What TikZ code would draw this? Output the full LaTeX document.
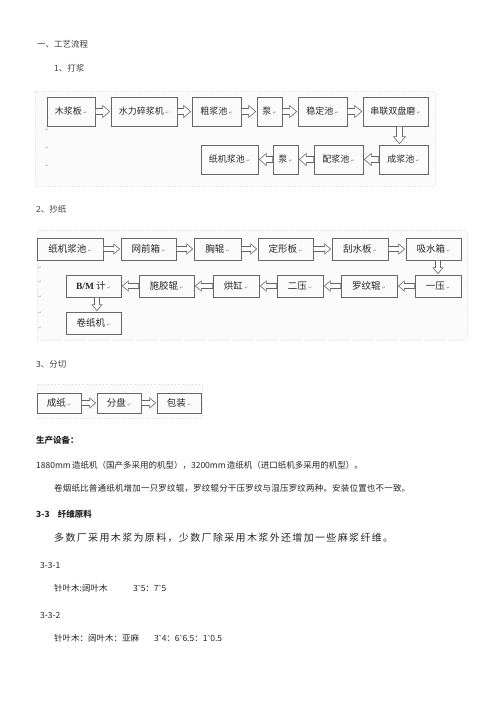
\documentclass[tikz,border=0pt]{standalone}
\usepackage{fontspec}
\setmainfont{Noto Sans CJK SC}
\newfontfamily\libser{Liberation Serif}
\newfontfamily\djv{DejaVu Sans}
\usetikzlibrary{calc}
\newcommand\rt{\,{\djv\fontsize{4.5}{4.5}\selectfont\color{gray}↵}}
\newcommand\tld{{\libser ˜}}
% even spreading of a line of characters to a given width
\def\sprstop{\sprstopmark}
\def\sprB#1{#1\sprC}
\def\sprC#1{\def\sprtmp{#1}\ifx\sprtmp\sprstop\else\hfil#1\expandafter\sprC\fi}
\newcommand\spreadto[2]{\hbox to #1{\sprB#2\sprstopmark}}
% block arrows between named nodes
\newcommand\blkR[2]{\path[blk] let \p1=(#1.east), \p2=(#2.west) in
  (\x1,\y1+\sh) -- (\x2-\hl-\gp,\y1+\sh) -- (\x2-\hl-\gp,\y1+\hh) -- (\x2-\gp,\y1)
  -- (\x2-\hl-\gp,\y1-\hh) -- (\x2-\hl-\gp,\y1-\sh) -- (\x1,\y1-\sh) -- cycle;}
\newcommand\blkL[2]{\path[blk] let \p1=(#1.west), \p2=(#2.east) in
  (\x1,\y1+\sh) -- (\x2+\hl+\gp,\y1+\sh) -- (\x2+\hl+\gp,\y1+\hh) -- (\x2+\gp,\y1)
  -- (\x2+\hl+\gp,\y1-\hh) -- (\x2+\hl+\gp,\y1-\sh) -- (\x1,\y1-\sh) -- cycle;}
\newcommand\blkD[3]{\path[blk] let \p1=(#1.south), \p2=(#2.north) in
  (#3-\sh,\y1) -- (#3-\sh,\y2+\hl+\gp) -- (#3-\hh,\y2+\hl+\gp) -- (#3,\y2+\gp)
  -- (#3+\hh,\y2+\hl+\gp) -- (#3+\sh,\y2+\hl+\gp) -- (#3+\sh,\y1) -- cycle;}
\begin{document}
\begin{tikzpicture}[x=1pt,y=-1pt,
  bx/.style={draw=black!60, line width=0.7pt, inner sep=0pt, text=black!85},
  ba/.style={bx, minimum height=29pt, font=\fontsize{9}{9}\selectfont},
  bb/.style={bx, minimum height=22pt, font=\fontsize{9.5}{9.5}\selectfont},
  bc/.style={bx, minimum height=20pt, minimum width=44pt, font=\fontsize{9.5}{9.5}\selectfont},
  blk/.style={draw=black!60, fill=white, line width=0.6pt},
  cv/.style={fill=gray!3, draw=gray!25, dotted, line width=0.4pt},
  tx/.style={anchor=west, inner sep=0pt, text=black!85, font=\fontsize{8.5}{8.5}\selectfont},
  hd/.style={tx, text=black!75},
  bd/.style={tx, font=\fontsize{8.5}{8.5}\selectfont\bfseries},
  mk/.style={anchor=west, inner sep=0pt, text=gray!70, font=\djv\fontsize{4.5}{4.5}\selectfont},
]
\path[use as bounding box, fill=white] (0,0) rectangle (500,708);

% canvases
\path[cv] (35,91) rectangle (435,186);
\path[cv] (37,230) rectangle (467,340);
\path[cv] (37,384) rectangle (202,418);

% headings
\node[hd] (h1) at (37,44) {一、工艺流程};
\node[hd] (h11) at (54,68) {1、打浆};
\node[hd] (h12) at (36,209) {2、抄纸};
\node[hd] (h13) at (36,364) {3、分切};

% ---------- section 1 ----------
\def\sh{3pt}\def\hh{6pt}\def\hl{7pt}\def\gp{1pt}
\node[ba, minimum width=48pt] (a1) at (71,111.5) {木浆板\rt};
\node[ba, minimum width=66pt] (a2) at (144,111.5) {水力碎浆机\rt};
\node[ba, minimum width=49pt] (a3) at (216.5,111.5) {粗浆池\rt};
\node[ba, minimum width=25pt] (a4) at (269.5,111.5) {泵\rt};
\node[ba, minimum width=49pt] (a5) at (322.5,111.5) {稳定池\rt};
\node[ba, minimum width=65pt] (a6) at (395.5,111.5) {串联双盘磨\rt};
\node[ba, minimum width=49pt] (a7) at (403.5,159.5) {成浆池\rt};
\node[ba, minimum width=49pt] (a8) at (338.5,159.5) {配浆池\rt};
\node[ba, minimum width=25pt] (a9) at (285.5,159.5) {泵\rt};
\node[ba, minimum width=57pt] (a10) at (229.5,159.5) {纸机浆池\rt};
\blkR{a1}{a2}\blkR{a2}{a3}\blkR{a3}{a4}\blkR{a4}{a5}\blkR{a5}{a6}
\blkD{a6}{a7}{399.5pt}
\blkL{a7}{a8}\blkL{a8}{a9}\blkL{a9}{a10}
\node[mk] (m1) at (45,130) {↵};
\node[mk] (m2) at (45,148) {↵};
\node[mk] (m3) at (45,166) {↵};

% ---------- section 2 ----------
\def\sh{2.5pt}\def\hh{5pt}\def\hl{6pt}\def\gp{1pt}
\node[bb, minimum width=66pt] (b1) at (70,249) {纸机浆池\rt};
\node[bb, minimum width=55pt] (b2) at (148.5,249) {网前箱\rt};
\node[bb, minimum width=47pt] (b3) at (217.5,249) {胸辊\rt};
\node[bb, minimum width=55pt] (b4) at (285.5,249) {定形板\rt};
\node[bb, minimum width=56pt] (b5) at (360,249) {刮水板\rt};
\node[bb, minimum width=55pt] (b6) at (433.5,249) {吸水箱\rt};
\node[bb, minimum width=46pt] (b7) at (438,286) {一压\rt};
\node[bb, minimum width=56pt] (b8) at (369,286) {罗纹辊\rt};
\node[bb, minimum width=46pt] (b9) at (300,286) {二压\rt};
\node[bb, minimum width=46pt] (b10) at (236,286) {烘缸\rt};
\node[bb, minimum width=55pt] (b11) at (166.5,286) {施胶辊\rt};
\node[bb, minimum width=55pt] (b12) at (93.5,286) {{\libser\bfseries B/M} 计\rt};
\node[bb, minimum width=55pt] (b13) at (93.5,323) {卷纸机\rt};
\blkR{b1}{b2}\blkR{b2}{b3}\blkR{b3}{b4}\blkR{b4}{b5}\blkR{b5}{b6}
\blkD{b6}{b7}{438pt}
\blkL{b7}{b8}\blkL{b8}{b9}\blkL{b9}{b10}\blkL{b10}{b11}\blkL{b11}{b12}
\blkD{b12}{b13}{97pt}
\node[mk] (m4) at (38,268) {↵};
\node[mk] (m5) at (38,282) {↵};
\node[mk] (m6) at (38,297) {↵};
\node[mk] (m7) at (38,313) {↵};
\node[mk] (m8) at (38,328) {↵};

% ---------- section 3 ----------
\node[bc] (c1) at (59,403) {成纸\rt};
\node[bc] (c2) at (119,403) {分盘\rt};
\node[bc] (c3) at (179,403) {包装\rt};
\blkR{c1}{c2}\blkR{c2}{c3}

% ---------- text ----------
\node[bd] (t1) at (36,440) {生产设备：};
\node[tx] (t2) at (36,465) {\spreadto{326pt}{{1880mm~}造纸机（国产多采用的机型），{3200mm~}造纸机（进口纸机多采用的机型）。}};
\node[tx] (t3) at (54,488) {\spreadto{356pt}{卷烟纸比普通纸机增加一只罗纹辊，罗纹辊分干压罗纹与湿压罗纹两种。安装位置也不一致。}};
\node[bd] (t4) at (36,514) {3-3\hspace{8pt}纤维原料};
\node[tx, font=\fontsize{10}{10}\selectfont] (t5) at (54,538) {\spreadto{339pt}{多数厂采用木浆为原料，少数厂除采用木浆外还增加一些麻浆纤维。}};
\node[tx] (t6) at (40,565) {3-3-1};
\node[tx] (t7) at (54,588) {针叶木:阔叶木};
\node[tx] (t8) at (133,588) {3\tld5：7\tld5};
\node[tx] (t9) at (40,615) {3-3-2};
\node[tx] (t10) at (54,638) {针叶木：阔叶木：亚麻};
\node[tx] (t11) at (154,638) {3\tld4：6\tld6.5：1\tld0.5};
\end{tikzpicture}
\end{document}
